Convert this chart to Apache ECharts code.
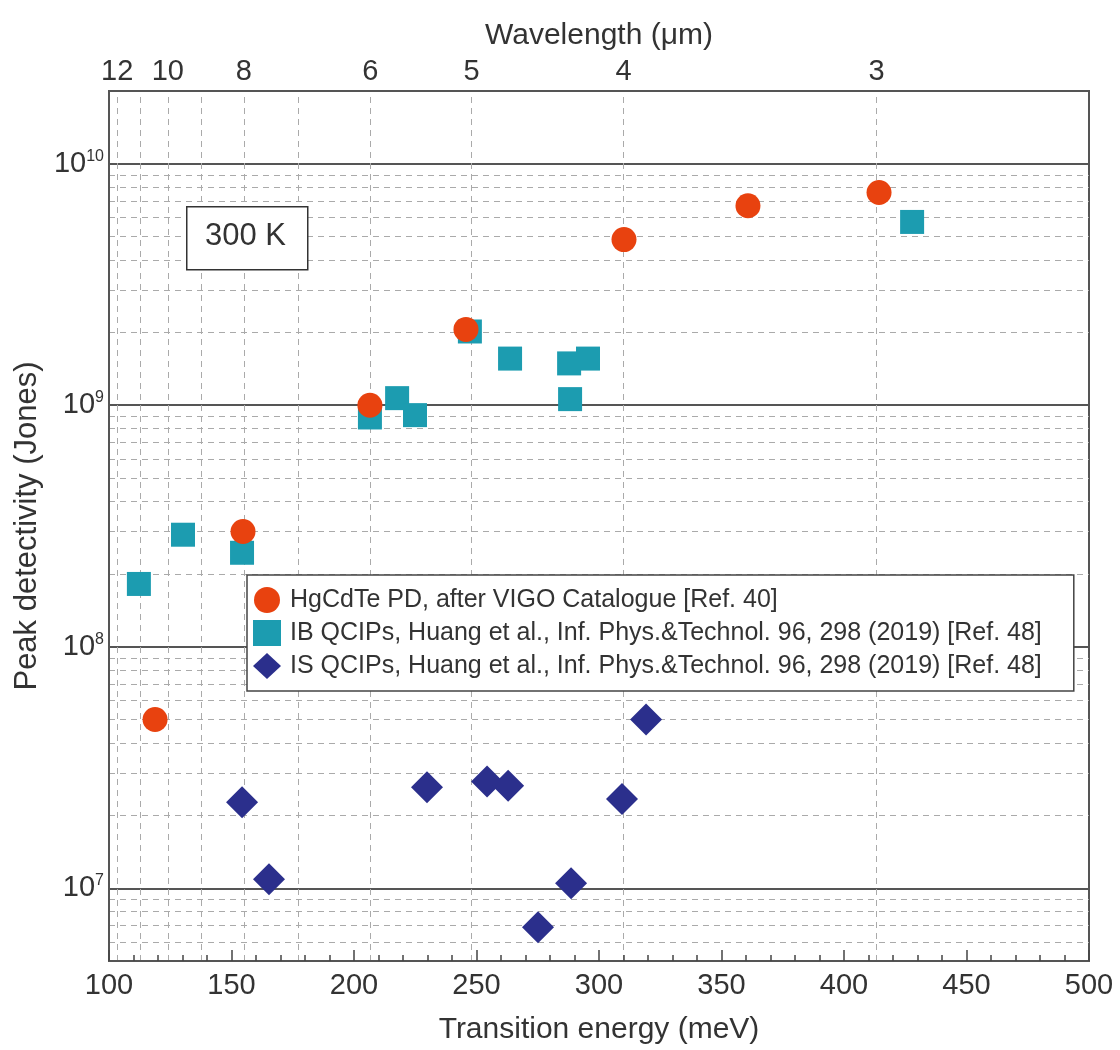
<!DOCTYPE html>
<html>
<head>
<meta charset="utf-8">
<script src="https://cdn.jsdelivr.net/npm/echarts@6/dist/echarts.min.js"></script>
<style>html,body{margin:0;padding:0;background:#fff}#c{width:1120px;height:1050px}</style>
</head>
<body>
<div id="c"></div>
<script>
// ---- data ----
const hgcdteEnergy = [118.8, 154.7, 206.5, 245.7, 310.2, 360.8, 414.3];
const hgcdteD      = [5.0e7, 3.0e8, 1.0e9, 2.06e9, 4.85e9, 6.7e9, 7.6e9];

const ibEnergy = [112.2, 130.2, 154.3, 206.5, 217.6, 224.9, 247.3, 263.7, 287.8, 288.2, 295.5, 427.8];
const ibD      = [1.82e8, 2.91e8, 2.45e8, 8.9e8, 1.07e9, 0.91e9, 2.02e9, 1.56e9, 1.49e9, 1.06e9, 1.56e9, 5.74e9];

const isEnergy = [154.3, 165.3, 229.8, 254.3, 262.9, 275.1, 288.6, 309.4, 319.2];
const isD      = [2.27e7, 1.09e7, 2.62e7, 2.77e7, 2.66e7, 6.9e6, 1.05e7, 2.34e7, 5.0e7];

const seriesNames = [
  'HgCdTe PD, after VIGO Catalogue [Ref. 40]',
  'IB QCIPs, Huang et al., Inf. Phys.&Technol. 96, 298 (2019) [Ref. 48]',
  'IS QCIPs, Huang et al., Inf. Phys.&Technol. 96, 298 (2019) [Ref. 48]'
];

const xTicks = [100, 150, 200, 250, 300, 350, 400, 450, 500];
const topLabelWavelengths = [12, 10, 8, 6, 5, 4, 3];
const gridWavelengths = [12, 11, 10, 9, 8, 7, 6, 5, 4, 3];
const yDecades = [6, 7, 8, 9, 10];
const yMinorMultipliers = [2, 3, 4, 5, 6, 7, 8, 9];
const hc = 1240; // meV*um
const annotationText = '300 K';

// ---- build ----
const yMin = 5e6, yMax = 2e10;
const pair = (xs, ys) => xs.map((x, i) => [x, ys[i]]);
const minorY = [];
yDecades.forEach(d => yMinorMultipliers.forEach(m => {
  const v = m * Math.pow(10, d);
  if (v > yMin && v < yMax) minorY.push({ yAxis: v });
}));
const vLines = gridWavelengths.map(l => ({ xAxis: hc / l }));

const FONT = '"Liberation Sans", Arial, sans-serif';
const TXT = '#333';

const chart = echarts.init(document.getElementById('c'), null, { renderer: 'canvas' });
chart.setOption({
  animation: false,
  textStyle: { fontFamily: FONT },
  grid: { left: 109, right: 31, top: 91, bottom: 89, show: true, borderColor: '#555', borderWidth: 2, backgroundColor: 'transparent' },
  xAxis: [
    {
      type: 'value', min: xTicks[0], max: xTicks[xTicks.length - 1], interval: 50, position: 'bottom',
      name: 'Transition energy (meV)', nameLocation: 'middle', nameGap: 54,
      nameTextStyle: { fontSize: 30, color: TXT, fontFamily: FONT },
      axisLine: { show: true, lineStyle: { color: '#555', width: 2 } },
      axisTick: { show: true, inside: true, length: 11, lineStyle: { color: '#444', width: 1.5 } },
      minorTick: { show: true, splitNumber: 5, length: 6, lineStyle: { color: '#444', width: 1.5 } },
      axisLabel: { fontSize: 29, color: TXT, margin: 10, fontFamily: FONT },
      splitLine: { show: false }
    },
    {
      type: 'value', min: xTicks[0], max: xTicks[xTicks.length - 1], position: 'top',
      name: 'Wavelength (μm)', nameLocation: 'middle', nameGap: 40,
      nameTextStyle: { fontSize: 30, color: TXT, fontFamily: FONT },
      axisLine: { show: true, lineStyle: { color: '#555', width: 2 } },
      axisTick: { show: false },
      axisLabel: {
        fontSize: 29, color: TXT, margin: 5, fontFamily: FONT,
        customValues: topLabelWavelengths.map(l => hc / l),
        formatter: v => String(Math.round(hc / v))
      },
      splitLine: { show: false }
    }
  ],
  yAxis: {
    type: 'log', logBase: 10, min: yMin, max: yMax,
    name: 'Peak detectivity (Jones)', nameLocation: 'middle', nameGap: 64, nameRotate: 90,
    nameTextStyle: { fontSize: 31, color: TXT, fontFamily: FONT },
    axisLine: { show: true, lineStyle: { color: '#555', width: 2 } },
    axisTick: { show: false },
    axisLabel: {
      showMinLabel: false, showMaxLabel: false, margin: 5,
      formatter: v => '{b|10}{s|' + Math.round(Math.log10(v)) + '}',
      rich: {
        b: { fontSize: 29, color: TXT, fontFamily: FONT },
        s: { fontSize: 16, color: TXT, fontFamily: FONT, padding: [0, 0, 15, 0] }
      }
    },
    splitLine: { show: true, lineStyle: { color: '#555', width: 2, type: 'solid' } }
  },
  legend: {
    orient: 'vertical', left: 247, top: 575, z: 50,
    backgroundColor: '#fff', borderColor: '#444', borderWidth: 1.5,
    padding: [12, 32, 12, 6], itemGap: 7, itemWidth: 28, itemHeight: 26,
    textStyle: { fontSize: 25, color: TXT, fontFamily: FONT, padding: [0, 0, 0, 4] },
    data: [
      { name: seriesNames[0], icon: 'circle' },
      { name: seriesNames[1], icon: 'rect' },
      { name: seriesNames[2], icon: 'diamond' }
    ]
  },
  graphic: [
    { type: 'rect', left: 186, top: 206, z: 100, shape: { width: 121, height: 63 }, style: { fill: '#fff', stroke: '#333', lineWidth: 1.5 } },
    { type: 'text', left: 205, top: 221, z: 101, style: { text: annotationText, fontSize: 31, fill: TXT, fontFamily: FONT } }
  ],
  series: [
    {
      name: 'grid-helper', type: 'scatter', data: [], silent: true, z: 0,
      markLine: {
        silent: true, symbol: 'none', label: { show: false }, animation: false, z: 0,
        lineStyle: { color: '#aaa', width: 1, type: [6, 5] },
        data: vLines.concat(minorY)
      }
    },
    {
      name: seriesNames[0], type: 'scatter', symbol: 'circle', symbolSize: 25, z: 12,
      itemStyle: { color: '#E8420F', opacity: 1 },
      data: pair(hgcdteEnergy, hgcdteD)
    },
    {
      name: seriesNames[1], type: 'scatter', symbol: 'rect', symbolSize: 24, z: 10,
      itemStyle: { color: '#1C9CB0', opacity: 1 },
      data: pair(ibEnergy, ibD)
    },
    {
      name: seriesNames[2], type: 'scatter', symbol: 'diamond', symbolSize: 32, z: 10,
      itemStyle: { color: '#2B2F8C', opacity: 1 },
      data: pair(isEnergy, isD)
    }
  ]
});
</script>
</body>
</html>
